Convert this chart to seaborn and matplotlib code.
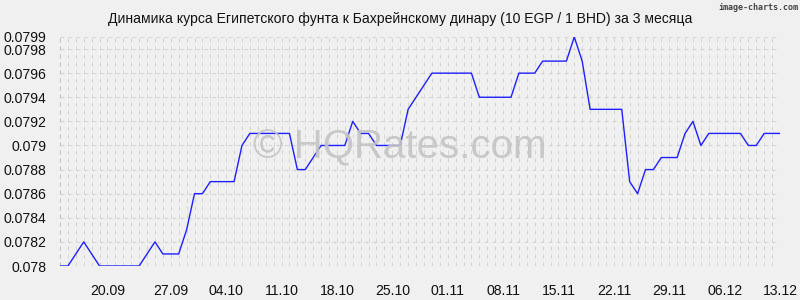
import numpy as np
import pandas as pd
import matplotlib
matplotlib.use("Agg")
import matplotlib.pyplot as plt
import seaborn as sns

# ---- data ----
rates = [0.0780, 0.0780, 0.0781, 0.0782, 0.0781, 0.0780, 0.0780, 0.0780, 0.0780, 0.0780,
         0.0780, 0.0781, 0.0782, 0.0781, 0.0781, 0.0781, 0.0783, 0.0786, 0.0786, 0.0787,
         0.0787, 0.0787, 0.0787, 0.0790, 0.0791, 0.0791, 0.0791, 0.0791, 0.0791, 0.0791,
         0.0788, 0.0788, 0.0789, 0.0790, 0.0790, 0.0790, 0.0790, 0.0792, 0.0791, 0.0791,
         0.0790, 0.0790, 0.0790, 0.0790, 0.0793, 0.0794, 0.0795, 0.0796, 0.0796, 0.0796,
         0.0796, 0.0796, 0.0796, 0.0794, 0.0794, 0.0794, 0.0794, 0.0794, 0.0796, 0.0796,
         0.0796, 0.0797, 0.0797, 0.0797, 0.0797, 0.0799, 0.0797, 0.0793, 0.0793, 0.0793,
         0.0793, 0.0793, 0.0787, 0.0786, 0.0788, 0.0788, 0.0789, 0.0789, 0.0789, 0.0791,
         0.0792, 0.0790, 0.0791, 0.0791, 0.0791, 0.0791, 0.0791, 0.0790, 0.0790, 0.0791,
         0.0791, 0.0791]
x_tick_labels = ["20.09", "27.09", "04.10", "11.10", "18.10", "25.10", "01.11",
                 "08.11", "15.11", "22.11", "29.11", "06.12", "13.12"]
x_tick_index = [6, 14, 21, 28, 35, 42, 49, 56, 63, 70, 77, 84, 91]
y_tick_values = [0.078, 0.0782, 0.0784, 0.0786, 0.0788, 0.079, 0.0792, 0.0794, 0.0796, 0.0798, 0.0799]
title = "Динамика курса Египетского фунта к Бахрейнскому динару (10 EGP / 1 BHD) за 3 месяца"

df = pd.DataFrame({"day": np.arange(len(rates)), "rate": rates})

sns.set_theme(style="white")
plt.rcParams["font.family"] = ["Liberation Sans", "DejaVu Sans"]
bg = "#f0f0f0"

fig = plt.figure(figsize=(8, 3), dpi=100, facecolor=bg)
ax = fig.add_axes([60 / 800, 34 / 300, 720 / 800, 229 / 300])
ax.set_facecolor(bg)

ymin, ymax = 0.078, 0.0799
ax.set_xlim(0, len(rates) - 1)
ax.set_ylim(ymin, ymax)

# dashed grid: vertical every day, horizontal at labelled values
grid_kw = dict(color="#d3d3d3", lw=0.72, dashes=(4, 4), zorder=1)
for gx in range(1, len(rates)):
    ax.axvline(gx, **grid_kw)
for gy in y_tick_values[1:]:
    ax.axhline(gy, **grid_kw)
ax.axvline(0, color="#bdbdbd", lw=0.72, dashes=(4, 4), zorder=1.5)
ax.axhline(ymin, color="#bdbdbd", lw=0.72, dashes=(4, 4), zorder=1.5)

# watermark
fig.text(0.5, 1 - 147 / 300, "© HQRates.com", ha="center", va="center",
         fontsize=29, color="#c4c4c4", alpha=0.9, zorder=2)

sns.lineplot(data=df, x="day", y="rate", ax=ax, color="#1f1fff", lw=1.0, zorder=3)

for s in ax.spines.values():
    s.set_visible(False)

ax.set_xticks(x_tick_index)
ax.set_xticklabels(x_tick_labels)
ax.set_yticks(y_tick_values)
ax.set_yticklabels([("%.4f" % v).rstrip("0") for v in y_tick_values])
ax.tick_params(axis="both", length=0, labelsize=10.1, colors="#111111")
ax.tick_params(axis="x", pad=13)
ax.tick_params(axis="y", pad=10)
ax.set_xlabel("")
ax.set_ylabel("")

fig.text(0.5, 1 - 19 / 300, title, ha="center", va="center", fontsize=10.1, color="#111111")
fig.text(798 / 800, 1 - 7 / 300, "image-charts.com", ha="right", va="center",
         fontsize=6, color="#444444", family="DejaVu Sans Mono", weight="bold")

fig.savefig("out.png", dpi=100, facecolor=bg)
